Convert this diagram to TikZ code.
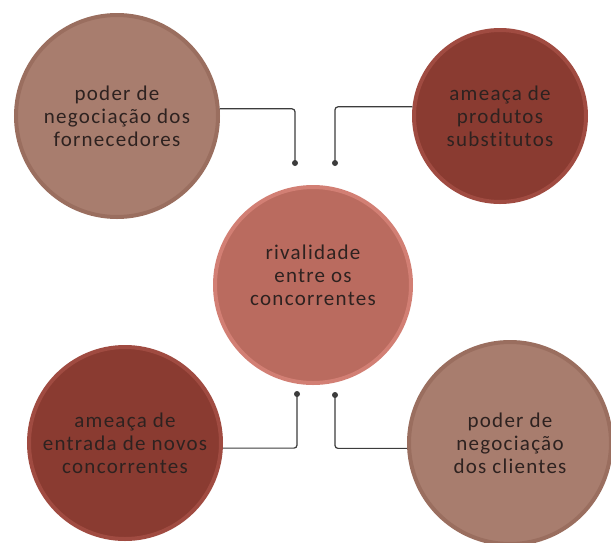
\documentclass[tikz,border=0pt]{standalone}
\usepackage{fontspec}
\newfontfamily\carl[LetterSpace=6,Ligatures=NoCommon]{Carlito}
\definecolor{clay}{HTML}{A87D6E}
\definecolor{clayrim}{HTML}{9A6E5F}
\definecolor{wine}{HTML}{8A3B31}
\definecolor{winerim}{HTML}{A04B41}
\definecolor{rose}{HTML}{BA6B5F}
\definecolor{roserim}{HTML}{D27F74}
\definecolor{ink}{HTML}{2E2220}
\definecolor{wire}{HTML}{3C3C3C}
\begin{document}
\begin{tikzpicture}[x=1pt,y=-1pt,
  force/.style={circle,inner sep=0pt,line width=4pt,align=center,text=ink,
    font=\carl\fontsize{21}{23}\selectfont},
  link/.style={draw=wire,line width=1.2pt,rounded corners=3pt},
  dot/.style={fill=wire}]
\useasboundingbox (0,0) rectangle (611,542);
\clip (0,0) rectangle (611,542);

% the five forces
\node[force,fill=clay,draw=clayrim,minimum size=202pt] (forn) at (117,116) {poder de\\negociação dos\\fornecedores};
\node[force,fill=wine,draw=winerim,minimum size=172pt] (subs) at (500,116) {ameaça de\\produtos\\substitutos};
\node[force,fill=rose,draw=roserim,minimum size=196pt] (riva) at (313,285) {rivalidade\\entre os\\concorrentes\\[-4pt]};
\node[force,fill=wine,draw=winerim,minimum size=192pt] (entr) at (125,443) {ameaça de\\entrada de novos\\concorrentes};
\node[force,fill=clay,draw=clayrim,minimum size=202pt] (clie) at (510,443) {poder de\\negociação\\dos clientes};

% connector ends
\coordinate (d1) at (295,163);
\coordinate (d2) at (335,163);
\coordinate (d3) at (297,394);
\coordinate (d4) at (335,395);

\draw[link] (forn.4) -| (d1);
\draw[link] (subs.174) -| (d2);
\draw[link] (entr.-3) -| (d3);
\draw[link] (clie.183) -| (d4);

\fill[dot] (d1) circle (3);
\fill[dot] (d2) circle (3);
\fill[dot] (d3) circle (3);
\fill[dot] (d4) circle (3);
\end{tikzpicture}
\end{document}
